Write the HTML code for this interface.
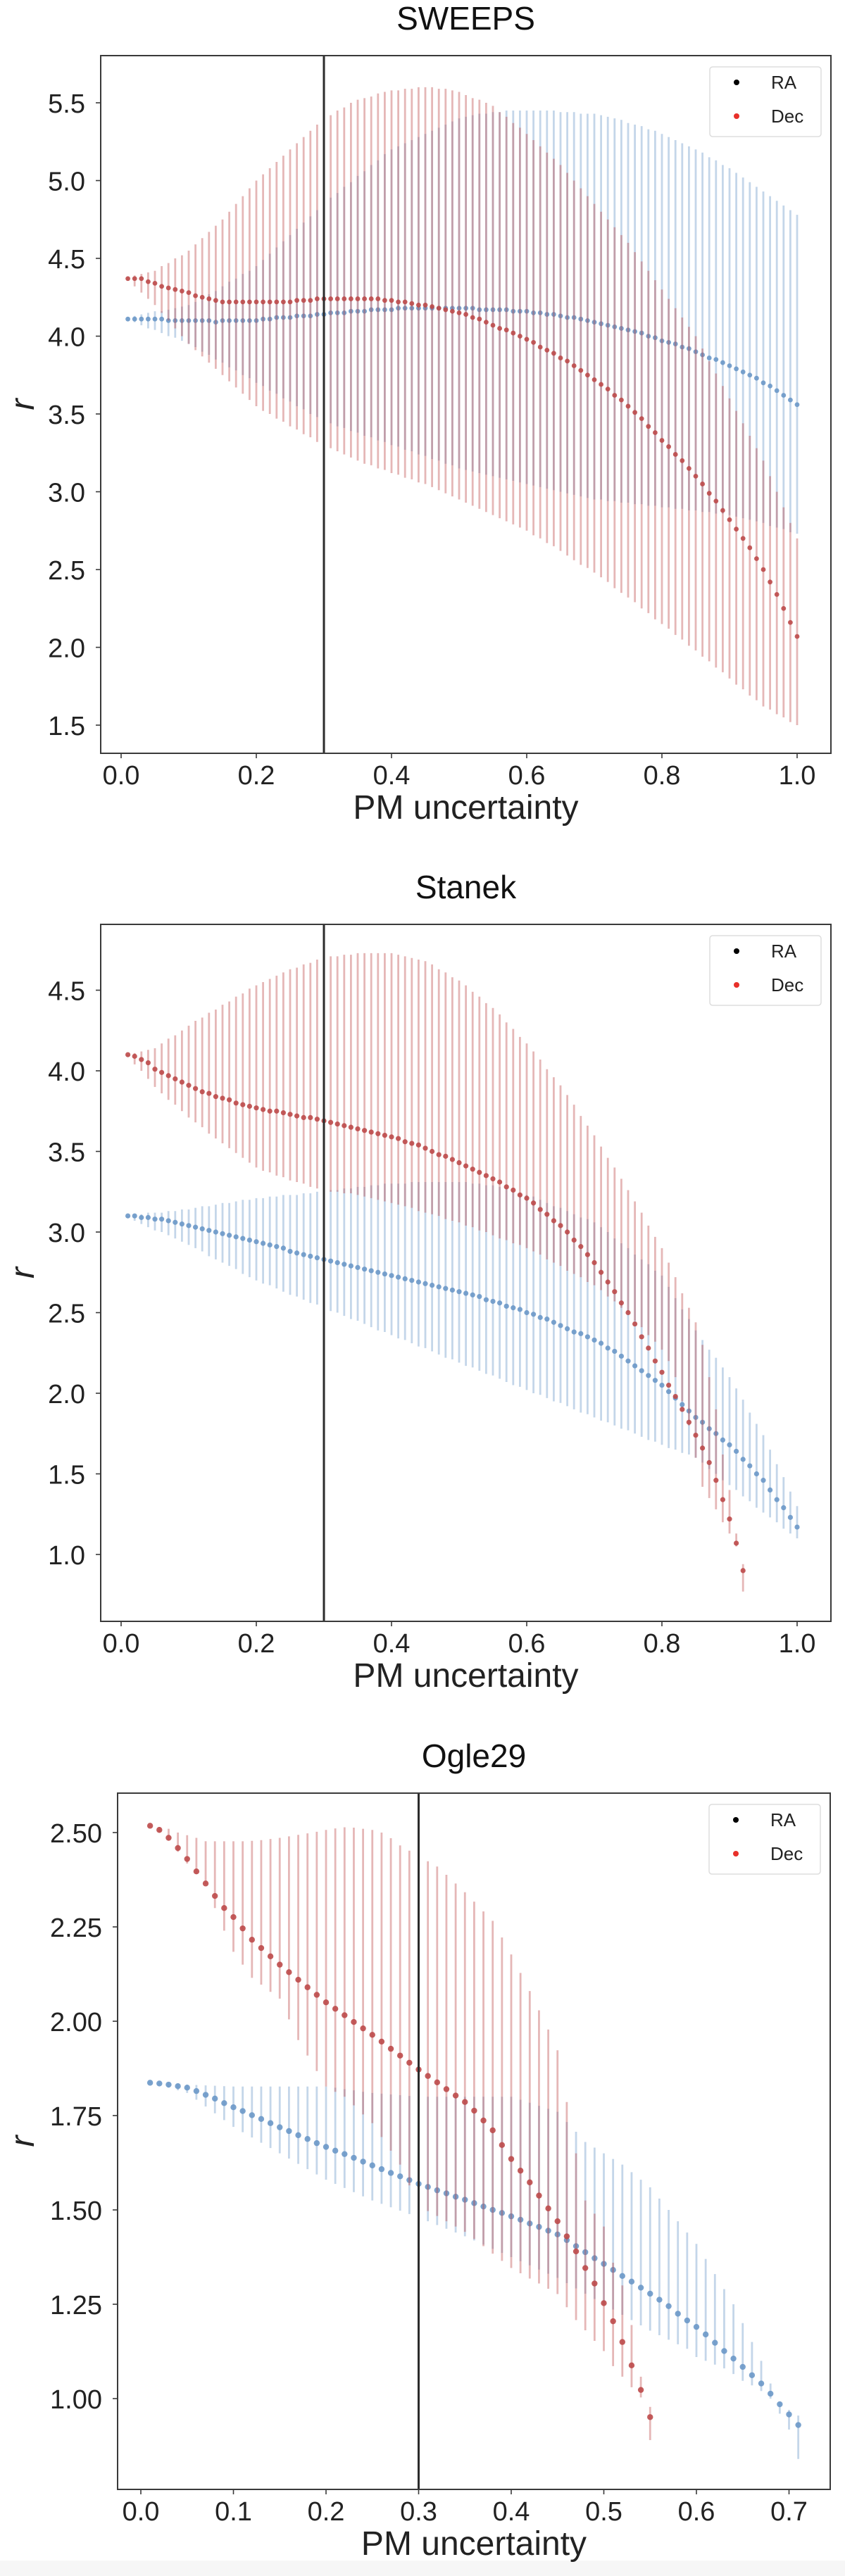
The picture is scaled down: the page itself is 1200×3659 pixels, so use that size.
<!DOCTYPE html>
<html><head><meta charset="utf-8"><title>PM uncertainty vs r</title>
<style>
html,body{margin:0;padding:0;background:#fff;}
svg{display:block;font-family:"Liberation Sans","DejaVu Sans",sans-serif;}
</style></head>
<body>
<svg id="fig" width="1200" height="3659" viewBox="0 0 1200 3659" xmlns="http://www.w3.org/2000/svg">
<rect x="0" y="0" width="1200" height="3659" fill="#ffffff"/>
<rect x="0" y="3637" width="1200" height="22" fill="#f6f6f6"/>
</svg>
<script>
// ===== SWEEPS data =====
const sweepsRA = [4.11,4.11,4.11,4.11,4.11,4.11,4.10,4.10,4.10,4.10,4.10,4.10,4.10,4.09,4.10,4.10,4.10,4.10,4.10,4.10,
4.11,4.11,4.12,4.12,4.12,4.13,4.13,4.13,4.14,4.14,4.15,4.15,4.15,4.16,4.16,4.16,4.17,4.17,4.17,4.17,
4.18,4.18,4.18,4.18,4.18,4.18,4.18,4.18,4.18,4.18,4.18,4.18,4.17,4.17,4.17,4.17,4.17,4.16,4.16,4.16,
4.15,4.15,4.14,4.14,4.13,4.12,4.12,4.11,4.10,4.09,4.08,4.07,4.06,4.05,4.04,4.03,4.02,4.00,3.99,3.97,
3.96,3.95,3.93,3.92,3.90,3.88,3.86,3.85,3.83,3.81,3.79,3.77,3.75,3.73,3.70,3.68,3.65,3.62,3.59,3.56];
const sweepsRAHigh = [4.12,4.13,4.14,4.15,4.16,4.16,4.17,4.18,4.19,4.20,4.22,4.24,4.27,4.29,4.32,4.35,4.37,4.40,4.42,4.45,
4.49,4.53,4.57,4.61,4.65,4.69,4.73,4.77,4.81,4.85,4.89,4.92,4.96,4.99,5.03,5.06,5.10,5.13,5.17,5.20,
5.22,5.24,5.26,5.28,5.30,5.32,5.34,5.36,5.38,5.40,5.41,5.42,5.43,5.43,5.44,5.44,5.45,5.45,5.45,5.45,
5.45,5.45,5.45,5.45,5.44,5.44,5.44,5.43,5.43,5.43,5.42,5.41,5.40,5.39,5.37,5.36,5.35,5.33,5.32,5.30,
5.28,5.26,5.24,5.22,5.20,5.18,5.15,5.13,5.10,5.08,5.05,5.02,4.99,4.96,4.93,4.90,4.87,4.84,4.81,4.78];
const sweepsRALow = [4.10,4.09,4.07,4.05,4.04,4.02,4.00,3.99,3.97,3.95,3.93,3.90,3.88,3.85,3.83,3.80,3.78,3.75,3.73,3.70,
3.68,3.65,3.63,3.60,3.58,3.55,3.53,3.50,3.48,3.45,3.44,3.42,3.41,3.39,3.38,3.36,3.35,3.33,3.32,3.30,
3.29,3.27,3.26,3.24,3.23,3.21,3.20,3.18,3.17,3.15,3.14,3.13,3.12,3.11,3.10,3.09,3.08,3.07,3.06,3.05,
3.04,3.03,3.02,3.01,3.00,2.99,2.98,2.97,2.96,2.95,2.95,2.94,2.94,2.93,2.93,2.92,2.92,2.91,2.91,2.90,
2.90,2.89,2.89,2.88,2.88,2.87,2.87,2.86,2.86,2.85,2.84,2.83,2.82,2.81,2.80,2.78,2.77,2.76,2.74,2.73];
const sweepsDec = [4.37,4.37,4.37,4.35,4.34,4.32,4.31,4.30,4.29,4.28,4.26,4.25,4.24,4.23,4.22,4.22,4.22,4.22,4.22,4.22,
4.22,4.22,4.22,4.22,4.22,4.23,4.23,4.23,4.24,4.24,4.24,4.24,4.24,4.24,4.24,4.24,4.24,4.24,4.23,4.23,
4.22,4.22,4.21,4.20,4.20,4.19,4.18,4.17,4.16,4.15,4.14,4.12,4.11,4.09,4.07,4.05,4.04,4.02,4.00,3.98,
3.96,3.93,3.91,3.89,3.86,3.84,3.81,3.78,3.75,3.72,3.69,3.66,3.62,3.59,3.55,3.51,3.47,3.42,3.38,3.33,
3.29,3.24,3.20,3.15,3.10,3.05,2.99,2.94,2.88,2.82,2.76,2.70,2.64,2.57,2.50,2.42,2.34,2.25,2.16,2.07];
const sweepsDecHigh = [4.38,4.39,4.40,4.41,4.42,4.45,4.47,4.50,4.52,4.55,4.59,4.63,4.67,4.71,4.75,4.80,4.85,4.90,4.95,5.00,
5.04,5.08,5.12,5.16,5.20,5.24,5.28,5.32,5.36,5.40,5.42,5.45,5.47,5.50,5.52,5.53,5.54,5.56,5.57,5.58,
5.58,5.59,5.59,5.60,5.60,5.60,5.59,5.59,5.58,5.57,5.55,5.53,5.52,5.50,5.48,5.44,5.41,5.37,5.34,5.30,
5.26,5.22,5.18,5.14,5.10,5.05,5.00,4.95,4.90,4.85,4.80,4.75,4.70,4.65,4.60,4.54,4.48,4.42,4.36,4.30,
4.24,4.18,4.12,4.06,4.00,3.92,3.84,3.76,3.68,3.60,3.52,3.44,3.36,3.28,3.20,3.10,3.00,2.90,2.80,2.70];
const sweepsDecLow = [4.36,4.32,4.28,4.24,4.20,4.15,4.10,4.05,4.00,3.95,3.91,3.87,3.83,3.79,3.75,3.71,3.67,3.63,3.59,3.55,
3.52,3.50,3.47,3.45,3.42,3.40,3.37,3.35,3.32,3.30,3.28,3.26,3.24,3.22,3.20,3.18,3.17,3.15,3.14,3.12,
3.11,3.09,3.08,3.06,3.05,3.03,3.01,2.99,2.97,2.95,2.93,2.91,2.89,2.87,2.85,2.83,2.81,2.79,2.77,2.75,
2.72,2.70,2.67,2.65,2.62,2.59,2.56,2.53,2.51,2.48,2.45,2.42,2.38,2.35,2.32,2.29,2.25,2.22,2.18,2.15,
2.12,2.08,2.05,2.01,1.98,1.94,1.91,1.87,1.84,1.80,1.76,1.73,1.69,1.66,1.62,1.60,1.57,1.55,1.52,1.50];
const sweepsXTicks = ['0.0','0.2','0.4','0.6','0.8','1.0'];
const sweepsYTicks = ['1.5','2.0','2.5','3.0','3.5','4.0','4.5','5.0','5.5'];

// ===== Stanek data =====
const stanekRA = [3.10,3.10,3.09,3.09,3.08,3.08,3.07,3.06,3.05,3.04,3.03,3.02,3.01,3.00,2.99,2.98,2.97,2.96,2.95,2.94,
2.93,2.92,2.91,2.90,2.88,2.87,2.86,2.85,2.84,2.83,2.82,2.81,2.80,2.79,2.78,2.77,2.76,2.75,2.74,2.73,
2.72,2.71,2.70,2.69,2.68,2.67,2.66,2.65,2.64,2.63,2.62,2.61,2.60,2.58,2.57,2.56,2.54,2.53,2.52,2.50,
2.49,2.47,2.46,2.44,2.42,2.40,2.38,2.37,2.35,2.33,2.31,2.28,2.26,2.23,2.20,2.17,2.14,2.11,2.08,2.05,
2.01,1.97,1.93,1.89,1.85,1.82,1.78,1.75,1.71,1.68,1.64,1.59,1.55,1.50,1.46,1.40,1.34,1.29,1.23,1.17];
const stanekRAHigh = [3.10,3.11,3.11,3.12,3.12,3.12,3.13,3.13,3.14,3.14,3.15,3.16,3.16,3.17,3.18,3.18,3.19,3.20,3.20,3.21,
3.21,3.22,3.22,3.23,3.23,3.23,3.24,3.24,3.25,3.25,3.26,3.26,3.27,3.27,3.28,3.28,3.29,3.29,3.30,3.30,
3.30,3.30,3.31,3.31,3.31,3.31,3.31,3.31,3.31,3.31,3.31,3.30,3.30,3.29,3.29,3.28,3.27,3.26,3.24,3.23,
3.22,3.20,3.18,3.16,3.15,3.13,3.11,3.09,3.08,3.06,3.03,3.00,2.96,2.93,2.90,2.86,2.83,2.80,2.76,2.73,
2.66,2.59,2.52,2.46,2.39,2.33,2.27,2.22,2.16,2.10,2.03,1.96,1.88,1.81,1.74,1.65,1.56,1.48,1.39,1.30];
const stanekRALow = [3.09,3.07,3.05,3.03,3.01,3.00,2.98,2.96,2.94,2.92,2.90,2.88,2.85,2.83,2.81,2.79,2.77,2.74,2.72,2.70,
2.68,2.67,2.65,2.63,2.61,2.60,2.58,2.56,2.55,2.53,2.51,2.50,2.48,2.46,2.45,2.43,2.41,2.39,2.38,2.36,
2.34,2.33,2.31,2.29,2.28,2.26,2.24,2.22,2.21,2.19,2.17,2.16,2.14,2.12,2.11,2.09,2.07,2.05,2.04,2.02,
2.00,1.99,1.97,1.95,1.94,1.92,1.90,1.88,1.87,1.85,1.83,1.82,1.80,1.78,1.77,1.75,1.73,1.71,1.70,1.68,
1.66,1.65,1.63,1.62,1.60,1.57,1.53,1.50,1.46,1.43,1.40,1.36,1.33,1.29,1.26,1.23,1.20,1.16,1.13,1.10];
const stanekDec = [4.10,4.09,4.07,4.05,4.01,3.99,3.97,3.95,3.93,3.91,3.89,3.87,3.86,3.84,3.83,3.82,3.80,3.79,3.78,3.77,
3.76,3.75,3.75,3.74,3.73,3.72,3.71,3.71,3.70,3.69,3.68,3.67,3.66,3.65,3.64,3.63,3.62,3.61,3.60,3.59,
3.58,3.56,3.55,3.54,3.52,3.50,3.48,3.47,3.45,3.43,3.41,3.39,3.37,3.35,3.33,3.31,3.28,3.26,3.23,3.21,
3.18,3.14,3.11,3.07,3.04,3.00,2.95,2.91,2.86,2.81,2.75,2.69,2.63,2.56,2.50,2.43,2.35,2.28,2.20,2.13,
2.05,1.98,1.90,1.82,1.74,1.66,1.57,1.46,1.34,1.22,1.07,0.90];
const stanekDecHigh = [4.10,4.11,4.12,4.13,4.14,4.17,4.20,4.22,4.25,4.28,4.31,4.33,4.36,4.38,4.41,4.43,4.46,4.48,4.51,4.53,
4.55,4.57,4.59,4.61,4.63,4.64,4.66,4.67,4.69,4.70,4.71,4.71,4.72,4.72,4.73,4.73,4.73,4.73,4.73,4.73,
4.72,4.71,4.70,4.69,4.68,4.66,4.63,4.61,4.58,4.56,4.53,4.49,4.46,4.42,4.39,4.35,4.30,4.26,4.21,4.17,
4.12,4.07,4.01,3.96,3.91,3.85,3.79,3.72,3.66,3.60,3.53,3.46,3.40,3.33,3.26,3.19,3.12,3.04,2.97,2.90,
2.81,2.72,2.62,2.53,2.44,2.30,2.10,1.90,1.62,1.40,1.13,0.94];
const stanekDecLow = [4.09,4.04,4.00,3.95,3.90,3.86,3.82,3.79,3.75,3.71,3.68,3.65,3.61,3.58,3.55,3.52,3.49,3.46,3.43,3.40,
3.38,3.37,3.35,3.34,3.32,3.31,3.30,3.28,3.27,3.26,3.25,3.25,3.24,3.24,3.23,3.22,3.21,3.20,3.19,3.18,
3.17,3.16,3.15,3.13,3.12,3.11,3.10,3.08,3.07,3.06,3.04,3.03,3.01,3.00,2.98,2.96,2.95,2.93,2.92,2.90,
2.88,2.86,2.83,2.81,2.79,2.76,2.74,2.72,2.69,2.67,2.64,2.60,2.57,2.53,2.50,2.45,2.41,2.36,2.32,2.27,
2.20,2.10,1.95,1.80,1.60,1.42,1.35,1.28,1.20,1.13,1.05,0.77];
const stanekXTicks = ['0.0','0.2','0.4','0.6','0.8','1.0'];
const stanekYTicks = ['1.0','1.5','2.0','2.5','3.0','3.5','4.0','4.5'];

// ===== Ogle29 data =====
const ogleRA = [1.837,1.835,1.832,1.828,1.824,1.815,1.805,1.795,1.783,1.772,
1.762,1.751,1.741,1.730,1.719,1.709,1.698,1.688,1.677,1.667,
1.657,1.648,1.638,1.628,1.618,1.608,1.598,1.589,1.579,1.569,
1.561,1.552,1.544,1.535,1.527,1.518,1.509,1.500,1.492,1.483,
1.474,1.464,1.455,1.445,1.435,1.420,1.404,1.388,1.372,1.357,
1.341,1.325,1.310,1.294,1.278,1.262,1.245,1.225,1.207,1.190,
1.170,1.148,1.126,1.106,1.084,1.062,1.040,1.013,0.985,0.958,0.930];
const ogleRAHigh = [1.840,1.838,1.836,1.834,1.832,1.831,1.830,1.829,1.828,1.827,
1.827,1.827,1.827,1.827,1.827,1.827,1.827,1.827,1.827,1.827,
1.824,1.820,1.817,1.813,1.810,1.808,1.806,1.804,1.802,1.800,
1.800,1.800,1.800,1.800,1.800,1.800,1.800,1.800,1.800,1.800,
1.792,1.784,1.776,1.768,1.760,1.733,1.707,1.680,1.665,1.650,
1.635,1.620,1.600,1.580,1.560,1.530,1.500,1.470,1.440,1.410,
1.370,1.330,1.290,1.250,1.200,1.150,1.100,1.040,0.990,0.970,0.955];
const ogleRALow = [1.835,1.830,1.824,1.817,1.810,1.792,1.774,1.756,1.738,1.720,
1.706,1.692,1.678,1.664,1.650,1.636,1.622,1.608,1.594,1.580,
1.569,1.558,1.547,1.536,1.525,1.516,1.507,1.498,1.489,1.480,
1.470,1.460,1.450,1.440,1.430,1.419,1.408,1.397,1.386,1.375,
1.364,1.353,1.342,1.331,1.320,1.306,1.292,1.278,1.264,1.250,
1.236,1.222,1.208,1.194,1.180,1.168,1.156,1.144,1.132,1.110,
1.100,1.090,1.080,1.065,1.047,1.035,1.020,1.000,0.960,0.918,0.840];
const ogleDec = [2.518,2.507,2.486,2.459,2.430,2.397,2.365,2.332,2.300,2.276,
2.246,2.216,2.194,2.172,2.150,2.130,2.110,2.090,2.070,2.050,
2.033,2.016,1.998,1.981,1.964,1.946,1.927,1.909,1.890,1.872,
1.855,1.838,1.820,1.803,1.786,1.763,1.737,1.711,1.672,1.635,
1.604,1.573,1.538,1.504,1.470,1.430,1.390,1.346,1.305,1.253,
1.205,1.150,1.088,1.023,0.951];
const ogleDecHigh = [2.520,2.515,2.510,2.500,2.493,2.486,2.477,2.477,2.477,2.477,
2.477,2.478,2.480,2.483,2.486,2.490,2.494,2.498,2.502,2.507,
2.511,2.514,2.513,2.510,2.507,2.500,2.485,2.466,2.452,2.438,
2.424,2.410,2.388,2.365,2.342,2.317,2.291,2.266,2.222,2.177,
2.128,2.080,2.029,1.978,1.923,1.786,1.650,1.525,1.490,1.456,
1.360,1.300,1.195,1.058,0.978];
const ogleDecLow = [2.515,2.500,2.480,2.449,2.418,2.390,2.363,2.300,2.240,2.184,
2.150,2.115,2.097,2.078,2.060,2.005,1.950,1.909,1.868,1.827,
1.813,1.800,1.777,1.753,1.730,1.693,1.657,1.620,1.565,1.510,
1.497,1.484,1.470,1.456,1.442,1.423,1.404,1.384,1.365,1.346,
1.332,1.318,1.305,1.291,1.277,1.242,1.208,1.181,1.153,1.126,
1.086,1.058,1.030,1.003,0.890];
const ogleXTicks = ['0.0','0.1','0.2','0.3','0.4','0.5','0.6','0.7'];
const ogleYTicks = ['1.00','1.25','1.50','1.75','2.00','2.25','2.50'];

const cutLine = 0.3;

// ===== drawing =====
const NS = 'http://www.w3.org/2000/svg';
const fig = document.getElementById('fig');
function mk(tag, attrs, parent) {
  const e = document.createElementNS(NS, tag);
  for (const k in attrs) e.setAttribute(k, attrs[k]);
  parent.appendChild(e);
  return e;
}
function xsFor(arr) { return arr.map((_, i) => (i + 1) / 100); }

const panels = [
  { key: 'sweeps', title: 'SWEEPS', L: 143, R: 1180, T: 79, B: 1070, x0: 172, xPer: 960, yRef: 5.5, yRefPx: 146, yPer: 221,
    xt: sweepsXTicks, yt: sweepsYTicks, r: 3.4, bw: 2.8,
    ra: [sweepsRA, sweepsRALow, sweepsRAHigh], dec: [sweepsDec, sweepsDecLow, sweepsDecHigh] },
  { key: 'stanek', title: 'Stanek', L: 143, R: 1180, T: 1313, B: 2303, x0: 172, xPer: 960, yRef: 4.0, yRefPx: 1521, yPer: 229,
    xt: stanekXTicks, yt: stanekYTicks, r: 3.6, bw: 2.8,
    ra: [stanekRA, stanekRALow, stanekRAHigh], dec: [stanekDec, stanekDecLow, stanekDecHigh] },
  { key: 'ogle29', title: 'Ogle29', L: 167, R: 1179, T: 2547, B: 3536, x0: 200, xPer: 1315, yRef: 2.5, yRefPx: 2603, yPer: 536,
    xt: ogleXTicks, yt: ogleYTicks, r: 4.2, bw: 2.8,
    ra: [ogleRA, ogleRALow, ogleRAHigh], dec: [ogleDec, ogleDecLow, ogleDecHigh] }
];

const RA_COL = '#6c98c8', DEC_COL = '#bd4a4a';

panels.forEach(p => {
  const X = v => p.x0 + v * p.xPer;
  const Y = v => p.yRefPx - (v - p.yRef) * p.yPer;
  const g = mk('g', {}, fig);
  
  

  const t = mk('text', { x: (p.L + p.R) / 2, y: p.T - 37, 'text-anchor': 'middle', 'font-size': 46, fill: '#111' }, g);
  
  
  t.textContent = p.title;

  const clipId = 'clip-' + p.key;
  const cp = mk('clipPath', { id: clipId }, g);
  mk('rect', { x: p.L, y: p.T, width: p.R - p.L, height: p.B - p.T }, cp);
  const plot = mk('g', { 'clip-path': 'url(#' + clipId + ')' }, g);
  
  

  [['ra', RA_COL], ['dec', DEC_COL]].forEach(([s, col]) => {
    const [c, lo, hi] = p[s];
    const xs = xsFor(c);
    const sg = mk('g', {}, plot);
    
    
    c.forEach((v, i) => {
      const ln = mk('line', { x1: X(xs[i]), x2: X(xs[i]), y1: Y(lo[i]), y2: Y(hi[i]), stroke: col, 'stroke-width': p.bw, 'stroke-opacity': 0.4 }, sg);
      
      
    });
    c.forEach((v, i) => {
      const d = mk('circle', { cx: X(xs[i]), cy: Y(v), r: p.r, fill: col, 'fill-opacity': 0.9 }, sg);
      
      
    });
  });

  const vl = mk('line', { x1: X(cutLine), x2: X(cutLine), y1: p.T, y2: p.B, stroke: '#2b2b2b', 'stroke-width': 3 }, g);
  
  

  const fr = mk('rect', { x: p.L, y: p.T, width: p.R - p.L, height: p.B - p.T, fill: 'none', stroke: '#3a3a3a', 'stroke-width': 2 }, g);
  
  

  p.xt.forEach(lbl => {
    const v = parseFloat(lbl);
    const tk = mk('line', { x1: X(v), x2: X(v), y1: p.B, y2: p.B + 7, stroke: '#3a3a3a', 'stroke-width': 1.6 }, g);
    
    
    const tx = mk('text', { x: X(v), y: p.B + 44, 'text-anchor': 'middle', 'font-size': 38, fill: '#222' }, g);
    
    
    tx.textContent = lbl;
  });
  p.yt.forEach(lbl => {
    const v = parseFloat(lbl);
    const tk = mk('line', { x1: p.L - 7, x2: p.L, y1: Y(v), y2: Y(v), stroke: '#3a3a3a', 'stroke-width': 1.6 }, g);
    
    
    const ty = mk('text', { x: p.L - 22, y: Y(v) + 14, 'text-anchor': 'end', 'font-size': 38, fill: '#222' }, g);
    
    
    ty.textContent = lbl;
  });

  const xl = mk('text', { x: (p.L + p.R) / 2, y: p.B + 93, 'text-anchor': 'middle', 'font-size': 48, fill: '#222' }, g);
  
  
  xl.textContent = 'PM uncertainty';
  const yc = (p.T + p.B) / 2;
  const yl = mk('text', { x: 48, y: yc, 'text-anchor': 'middle', 'font-size': 48, 'font-style': 'italic', fill: '#222', transform: 'rotate(-90 48 ' + yc + ')' }, g);
  
  
  yl.textContent = 'r';

  const lg = mk('g', {}, g);
  
  
  mk('rect', { x: p.R - 172, y: p.T + 16, width: 158, height: 99, rx: 4, fill: '#fff', 'fill-opacity': 0.85, stroke: '#dddddd', 'stroke-width': 1.5 }, lg);
  [['RA', '#000', 38], ['Dec', '#e8302a', 86]].forEach(([name, col, dy]) => {
    const dot = mk('circle', { cx: p.R - 134, cy: p.T + dy, r: 4, fill: col }, lg);
    
    
    const lt = mk('text', { x: p.R - 85, y: p.T + dy + 9, 'font-size': 26, fill: '#222' }, lg);
    
    
    lt.textContent = name;
  });
});
</script>
</body></html>
